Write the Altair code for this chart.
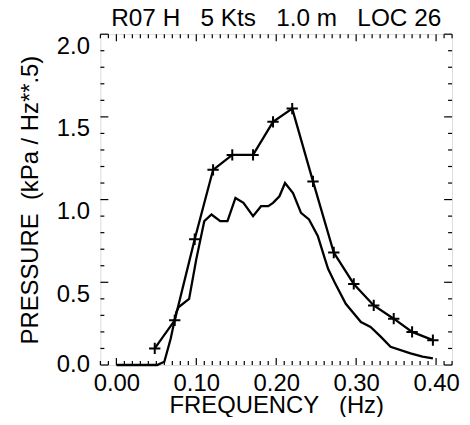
import altair as alt
import pandas as pd

# ---- data ----
plus_freq = [0.048, 0.073, 0.098, 0.121, 0.145, 0.171, 0.196, 0.220, 0.246,
             0.272, 0.297, 0.322, 0.347, 0.370, 0.396]
plus_pres = [0.10, 0.27, 0.76, 1.18, 1.27, 1.27, 1.47, 1.55, 1.11,
             0.68, 0.49, 0.36, 0.28, 0.20, 0.15]

smooth_freq = [0.000, 0.041, 0.051, 0.060, 0.068, 0.075, 0.078, 0.091, 0.100,
               0.110, 0.119, 0.130, 0.139, 0.149, 0.159, 0.171, 0.181, 0.190,
               0.196, 0.204, 0.211, 0.221, 0.231, 0.241, 0.252, 0.261, 0.265,
               0.273, 0.287, 0.306, 0.318, 0.331, 0.343, 0.368, 0.383, 0.396]
smooth_pres = [0.00, 0.00, 0.00, 0.02, 0.16, 0.32, 0.35, 0.40, 0.64,
               0.87, 0.91, 0.87, 0.87, 1.01, 0.98, 0.90, 0.96, 0.96,
               0.98, 1.02, 1.10, 1.04, 0.92, 0.88, 0.78, 0.64, 0.58,
               0.50, 0.37, 0.26, 0.23, 0.17, 0.11, 0.07, 0.05, 0.04]

x_major = [0.0, 0.1, 0.2, 0.3, 0.4]
y_major = [0.0, 0.5, 1.0, 1.5, 2.0]
x_minor = [round(i * 0.01, 2) for i in range(-2, 43) if i % 10 != 0]
y_minor = [round(i * 0.1, 1) for i in range(0, 21) if i % 5 != 0]

title_text = "R07 H\u00a0\u00a0\u00a05 Kts\u00a0\u00a0\u00a01.0 m\u00a0\u00a0\u00a0LOC 26"
x_title = "FREQUENCY\u00a0\u00a0\u00a0(Hz)"
y_title = "PRESSURE\u00a0\u00a0(kPa / Hz**.5)"

# ---- styling ----
FONT = "Liberation Sans"
W, H = 354, 333
MAJ, MIN = 7, 4

xscale = alt.Scale(domain=[-0.02, 0.42], nice=False, zero=False)
yscale = alt.Scale(domain=[0.0, 2.0], nice=False, zero=False)

xaxis = alt.Axis(values=x_major, format=".2f", title=x_title, ticks=False, tickSize=0,
                 domain=False, grid=False, labelFont=FONT, labelFontSize=24,
                 labelColor="black", labelPadding=7, labelFlush=False,
                 titleFont=FONT, titleFontSize=24,
                 titleFontWeight="normal", titleColor="black", titlePadding=-2)
yaxis = alt.Axis(values=y_major, format=".1f", title=y_title, ticks=False, tickSize=0,
                 domain=False, grid=False, labelFont=FONT, labelFontSize=24,
                 labelColor="black", labelPadding=11, labelFlush=False,
                 labelBaseline=alt.condition("datum.value == 0", alt.value("middle"), alt.value("top")),
                 titleFont=FONT, titleFontSize=24, titleFontWeight="normal",
                 titleColor="black", titlePadding=14)

X = alt.X("f:Q", scale=xscale, axis=xaxis)
Y = alt.Y("p:Q", scale=yscale, axis=yaxis)

df_s = pd.DataFrame({"f": smooth_freq, "p": smooth_pres})
df_p = pd.DataFrame({"f": plus_freq, "p": plus_pres})

smooth = alt.Chart(df_s).mark_line(color="black", strokeWidth=2.3).encode(x=X, y=Y)
plus_line = alt.Chart(df_p).mark_line(color="black", strokeWidth=2.3).encode(x=X, y=Y)
plus_pts = alt.Chart(df_p).mark_point(
    shape="M-1,0L1,0M0,-1L0,1", filled=False, color="black", strokeWidth=2, size=130, opacity=1
).encode(x=X, y=Y)

def xticks(vals, length):
    d = pd.DataFrame({"f": vals})
    top = alt.Chart(d).mark_rule(color="black", strokeWidth=1.2).encode(
        x=X, y=alt.value(0), y2=alt.value(length))
    bot = alt.Chart(d).mark_rule(color="black", strokeWidth=1.2).encode(
        x=X, y=alt.value(H), y2=alt.value(H - length))
    return [top, bot]

def yticks(vals, length):
    d = pd.DataFrame({"p": vals})
    left = alt.Chart(d).mark_rule(color="black", strokeWidth=1.2).encode(
        y=Y, x=alt.value(0), x2=alt.value(length))
    right = alt.Chart(d).mark_rule(color="black", strokeWidth=1.2).encode(
        y=Y, x=alt.value(W), x2=alt.value(W - length))
    return [left, right]

layers = [smooth, plus_line, plus_pts] + xticks(x_major, MAJ) + xticks(x_minor, MIN) \
    + yticks(y_major, MAJ + 1) + yticks(y_minor, MIN)

chart = alt.layer(*layers).properties(
    width=W, height=H,
    title=alt.TitleParams(text=title_text, font=FONT, fontSize=24.5, fontWeight="normal",
                          color="black", anchor="middle", offset=6, dy=4),
    autosize=alt.AutoSizeParams(type="none"),
    padding={"left": 93, "top": 25, "right": 10, "bottom": 51},
).configure_view(stroke="black", strokeWidth=1.6).configure(background="white")

chart.save("out.html", embed_options={"renderer": "svg", "actions": False})
